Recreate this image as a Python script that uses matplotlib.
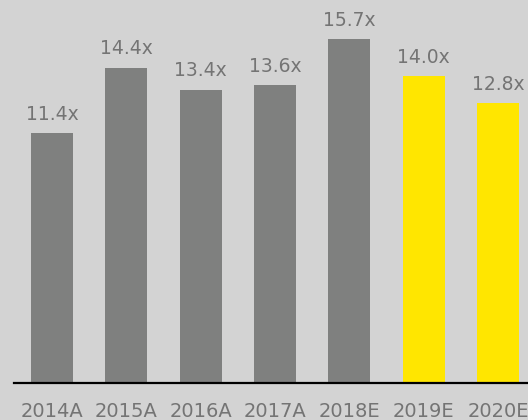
import matplotlib.pyplot as plt
import numpy as np

# Data
years = ['2014A', '2015A', '2016A', '2017A', '2018E', '2019E', '2020E']
multiples = [11.4, 14.4, 13.4, 13.6, 15.7, 14.0, 12.8]
highlight = [False, False, False, False, False, True, True]

bg = '#d3d3d3'
grey = '#7f807f'
yellow = '#ffe600'
text_col = '#747474'

fig = plt.figure(figsize=(5.28, 4.20), dpi=100, facecolor=bg)
ax = fig.add_axes([0.0, 1 - 383 / 420, 1.0, 383 / 420])
ax.set_facecolor(bg)

x = np.arange(len(years))
colors = [yellow if h else grey for h in highlight]
ax.bar(x, multiples, width=0.565, color=colors)

for xi, v in zip(x, multiples):
    ax.text(xi, v + 0.42, '%.1fx' % v, ha='center', va='bottom',
            fontsize=13.5, color=text_col)

# 74.33 px per category, first bar centred at x=52 px
ax.set_xlim(-52 / 74.33, (528 - 52) / 74.33)
ax.set_ylim(0, 17.49)

ax.set_xticks(x)
ax.set_xticklabels(years, fontsize=14, color=text_col)
ax.tick_params(axis='x', length=0, pad=14)
ax.set_yticks([])

for s in ['top', 'right', 'left']:
    ax.spines[s].set_visible(False)
ax.spines['bottom'].set_color('black')
ax.spines['bottom'].set_linewidth(1.6)
# axis line starts a bit in from the left edge
ax.spines['bottom'].set_bounds((14 - 52) / 74.33, 7)

fig.savefig('out.png', dpi=100, facecolor=bg)
plt.close()
